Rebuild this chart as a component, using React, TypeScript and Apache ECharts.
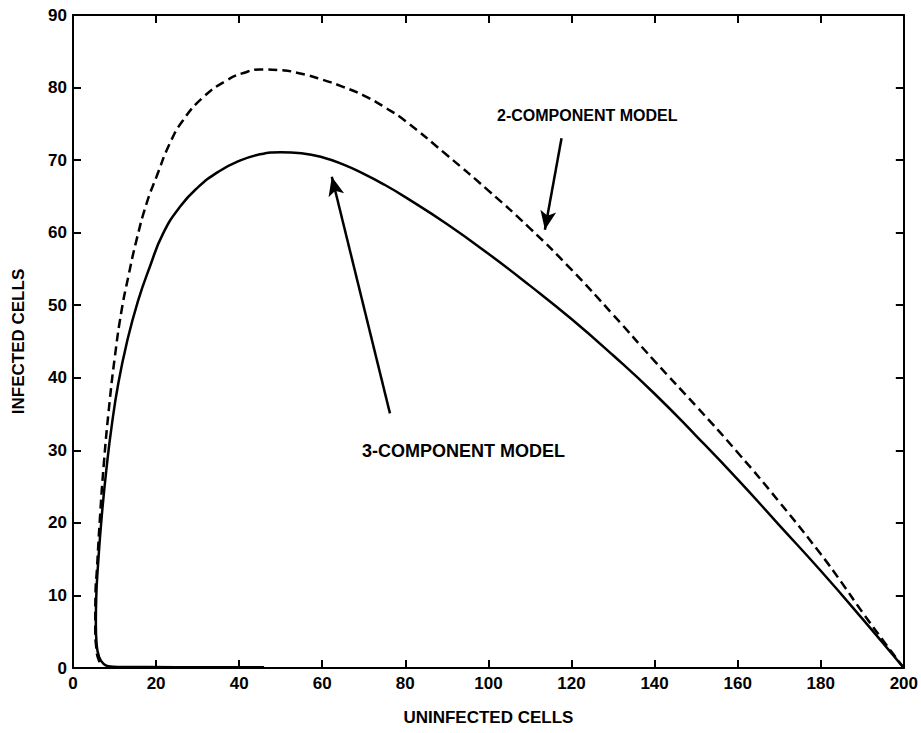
import React, { useEffect, useRef } from "react";
import * as echarts from "echarts";

const xTicks = [0, 200, 20];
const yTicks = [0, 90, 10];

const threeComponent: [number, number][] = [
  [200, 0], [190, 6.8], [180, 13.4], [170, 19.7], [160, 26.0], [150, 32.0], [140, 37.8],
  [130, 43.1], [120, 48.1], [110, 52.7], [100, 57.1], [90, 61.2], [80, 64.9], [75, 66.6],
  [70, 68.1], [65, 69.4], [60, 70.4], [55, 70.95], [50, 71.1], [45, 70.8], [40, 69.9],
  [35, 68.4], [30, 66.2], [25.8, 63.6], [21.7, 59.9], [18.5, 55.3], [15.6, 50.5], [12.9, 44.7],
  [10.9, 39.2], [9.3, 33.3], [8.1, 27.7], [6.9, 20.8], [6.0, 14], [5.6, 9.8], [5.5, 6],
  [5.7, 3.2], [6.3, 1.5], [7.3, 0.6], [8.5, 0.25], [11, 0.15], [25, 0.12], [46, 0.1],
];

const twoComponent: [number, number][] = [
  [200, 0], [195, 3.8], [190, 7.7], [185, 11.8], [180, 15.7], [170, 22.9], [160, 29.7],
  [150, 36.1], [140, 42.3], [130, 48.7], [120, 54.9], [110, 60.6], [100, 65.8], [90, 70.7],
  [80, 75.4], [75, 77.3], [70, 78.9], [65, 80.1], [60, 81.1], [55, 81.9], [50, 82.4],
  [45, 82.5], [41, 82.0], [37, 81.0], [31.4, 78.7], [26.5, 75.5], [23.3, 72.3], [20.1, 67.7],
  [17.7, 64], [15.3, 59], [13.3, 53.9], [11.7, 49.3], [10.1, 43.0], [8.6, 35.5], [7.4, 28],
  [6.5, 20.8], [5.8, 14], [5.4, 9.8], [5.35, 5.5], [5.6, 2.8], [6.2, 1.1], [7.3, 0.3],
];

const arrow2: [number, number][] = [[117.6, 73.0], [113.6, 60.4]];
const arrow3: [number, number][] = [[76.3, 35.1], [62.3, 67.7]];

const labels = ["2-COMPONENT MODEL", "3-COMPONENT MODEL"];
const axisNames = ["UNINFECTED CELLS", "INFECTED CELLS"];

const FONT = "Arial, 'Liberation Sans', Helvetica, sans-serif";

export default function App() {
  const ref = useRef<HTMLDivElement>(null);
  useEffect(() => {
    if (!ref.current) return;
    const chart = echarts.init(ref.current, null, { renderer: "svg" });
    const axisLine = { show: true, onZero: false, lineStyle: { color: "#000", width: 2 } };
    const tick = { show: true, inside: true, length: 8, lineStyle: { color: "#000", width: 2 } };
    const label = { color: "#000", fontSize: 17, fontWeight: "bold", fontFamily: FONT };
    const nameStyle = { color: "#000", fontSize: 17, fontWeight: "bold", fontFamily: FONT };
    chart.setOption({
      animation: false,
      backgroundColor: "#fff",
      grid: { left: 73, right: 17, top: 15, bottom: 65, containLabel: false },
      xAxis: [
        {
          type: "value", min: xTicks[0], max: xTicks[1], interval: xTicks[2], position: "bottom",
          axisLine, axisTick: tick, axisLabel: { ...label, margin: 7 }, splitLine: { show: false },
          name: axisNames[0], nameLocation: "middle", nameGap: 41, nameTextStyle: nameStyle,
        },
        {
          type: "value", min: xTicks[0], max: xTicks[1], interval: xTicks[2], position: "top",
          axisLine, axisTick: tick, axisLabel: { show: false }, splitLine: { show: false },
        },
      ],
      yAxis: [
        {
          type: "value", min: yTicks[0], max: yTicks[1], interval: yTicks[2], position: "left",
          axisLine, axisTick: tick, axisLabel: { ...label, margin: 6 }, splitLine: { show: false },
          name: axisNames[1], nameLocation: "middle", nameGap: 46, nameTextStyle: nameStyle,
        },
        {
          type: "value", min: yTicks[0], max: yTicks[1], interval: yTicks[2], position: "right",
          axisLine, axisTick: tick, axisLabel: { show: false }, splitLine: { show: false },
        },
      ],
      series: [
        {
          type: "line", data: twoComponent, smooth: 0.5, symbol: "none",
          lineStyle: { color: "#000", width: 2.5, type: [9, 5] }, silent: true,
        },
        {
          type: "line", data: threeComponent, smooth: 0.5, symbol: "none",
          lineStyle: { color: "#000", width: 2.5, type: "solid" }, silent: true,
          markLine: {
            silent: true, symbol: ["none", "arrow"], symbolSize: [12, 19], label: { show: false },
            lineStyle: { color: "#000", width: 2.5, type: "solid" },
            data: [
              [{ coord: arrow2[0] }, { coord: arrow2[1] }],
              [{ coord: arrow3[0] }, { coord: arrow3[1] }],
            ],
          },
        },
      ],
      graphic: [
        {
          type: "text", left: 497, top: 107,
          style: { text: labels[0], fill: "#000", fontSize: 16, fontWeight: "bold", fontFamily: FONT },
        },
        {
          type: "text", left: 362, top: 442,
          style: { text: labels[1], fill: "#000", fontSize: 18, fontWeight: "bold", fontFamily: FONT },
        },
      ],
    });
    return () => chart.dispose();
  }, []);
  return <div ref={ref} style={{ width: 921, height: 733, position: "absolute", left: 0, top: 0 }} />;
}
